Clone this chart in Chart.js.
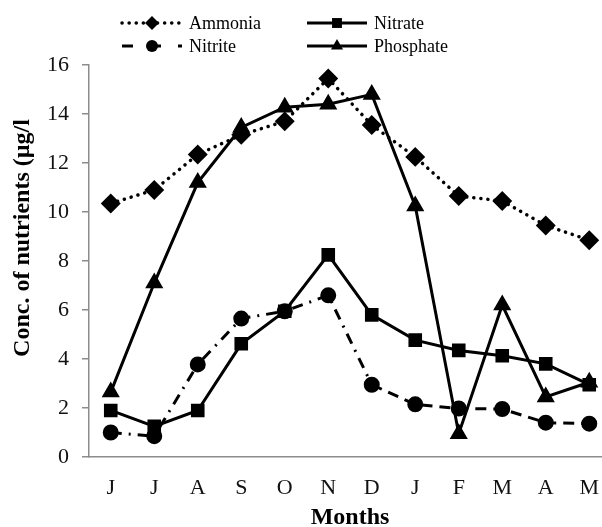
<!DOCTYPE html>
<html>
<head>
<meta charset="utf-8">
<script src="https://cdn.jsdelivr.net/npm/chart.js@4.4.1/dist/chart.umd.min.js"></script>
<style>
  html, body { margin: 0; padding: 0; background: #fff; overflow: hidden; }
  #wrap { position: absolute; left: 0; top: 0; width: 612px; height: 527px; }
</style>
</head>
<body>
<div id="wrap"><canvas id="nutrients"></canvas></div>
<script>
// Data
const months = ['J', 'J', 'A', 'S', 'O', 'N', 'D', 'J', 'F', 'M', 'A', 'M'];
const ammonia   = [10.35, 10.9, 12.35, 13.15, 13.7, 15.45, 13.55, 12.25, 10.65, 10.45, 9.45, 8.85];
const nitrite   = [1.0, 0.85, 3.78, 5.65, 5.95, 6.6, 2.95, 2.15, 1.98, 1.96, 1.4, 1.36];
const nitrate   = [1.9, 1.25, 1.9, 4.62, 5.95, 8.25, 5.8, 4.77, 4.35, 4.13, 3.8, 2.95];
const phosphate = [2.65, 7.1, 11.2, 13.45, 14.28, 14.4, 14.8, 10.25, 0.95, 6.2, 2.45, 3.05];
const yTicks = [0, 2, 4, 6, 8, 10, 12, 14, 16];

const fontFamily = '"Liberation Serif", "Times New Roman", serif',
      axisColor = '#8c8c8c',
      ink = '#000';

const datasets = [
  { label: 'Ammonia', data: ammonia, borderColor: ink, backgroundColor: ink,
    borderWidth: 3.5, borderDash: [0.1, 7], borderCapStyle: 'round',
    pointStyle: 'rectRot', pointRadius: 7.5 },
  { label: 'Nitrite', data: nitrite, borderColor: ink, backgroundColor: ink,
    borderWidth: 3, borderDash: [11, 7],
    // first half of the line is dash-dot, second half plain dashes
    segment: { borderDash: ctx => ctx.p0DataIndex < 6 ? [11, 7, 2, 7] : [11, 7] },
    pointStyle: 'circle', pointRadius: 6.5 },
  { label: 'Nitrate', data: nitrate, borderColor: ink, backgroundColor: ink,
    borderWidth: 3, pointStyle: 'rect', pointRadius: 7.5 },
  { label: 'Phosphate', data: phosphate, borderColor: ink, backgroundColor: ink,
    borderWidth: 3, pointStyle: 'triangle', pointRadius: 7.5 }
];

// Legend slots: [lineStart, y]
const legendSlots = [[122, 23], [122, 46], [307, 23], [307, 46]];

const legendAndTitle = {
  id: 'legendAndTitle',
  afterDraw(chart) {
    const ctx = chart.ctx;
    ctx.save();
    chart.data.datasets.forEach((ds, i) => {
      const [x0, y] = legendSlots[i];
      ctx.strokeStyle = ds.borderColor;
      ctx.lineWidth = ds.borderWidth;
      ctx.lineCap = ds.borderCapStyle || 'butt';
      ctx.setLineDash(i === 1 ? [11, 17] : (ds.borderDash || []));
      ctx.beginPath();
      ctx.moveTo(x0, y);
      ctx.lineTo(x0 + 60, y);
      ctx.stroke();
      ctx.setLineDash([]);
      ctx.fillStyle = ink;
      Chart.helpers.drawPoint(ctx, { pointStyle: ds.pointStyle, radius: ds.pointRadius - 0.5,
                                     rotation: 0, borderWidth: 0 }, x0 + 30, y);
      ctx.font = '18px ' + fontFamily;
      ctx.textBaseline = 'middle';
      ctx.textAlign = 'left';
      ctx.fillText(ds.label, x0 + 67, y + 1);
    });
    // y-axis title
    ctx.translate(23, 238);
    ctx.rotate(-Math.PI / 2);
    ctx.font = 'bold 24px ' + fontFamily;
    ctx.textAlign = 'center';
    ctx.textBaseline = 'middle';
    ctx.fillText('Conc. of nutrients (µg/l', 0, 0);
    ctx.restore();
  }
};

new Chart(document.getElementById('nutrients'), {
  type: 'line',
  data: { labels: months, datasets: datasets },
  options: {
    responsive: true,
    maintainAspectRatio: false,
    animation: false,
    layout: { autoPadding: false, padding: { top: 65, right: 1, left: 0, bottom: 0 } },
    plugins: { legend: { display: false }, tooltip: { enabled: false } },
    scales: {
      x: {
        offset: true,
        // tick marks hidden, their length only pushes the labels down
        grid: { display: false, drawTicks: true, tickLength: 14 },
        border: { color: axisColor, width: 1.5 },
        ticks: { color: '#111', font: { family: fontFamily, size: 22 }, padding: 4, maxRotation: 0, autoSkip: false },
        title: { display: true, text: 'Months', color: ink,
                 font: { family: fontFamily, size: 24, weight: 'bold' }, padding: { top: 0, bottom: -5 } },
        afterFit: scale => { scale.height = 70; }
      },
      y: {
        min: 0, max: 16,
        afterBuildTicks: scale => { scale.ticks = yTicks.map(v => ({ value: v })); },
        grid: { drawOnChartArea: false, color: axisColor, lineWidth: 1.5, tickLength: 7 },
        border: { color: axisColor, width: 1.5 },
        ticks: { color: '#111', font: { family: fontFamily, size: 22 }, padding: 13 },
        afterFit: scale => { scale.width = 89; }
      }
    }
  },
  plugins: [legendAndTitle]
});
</script>
</body>
</html>
